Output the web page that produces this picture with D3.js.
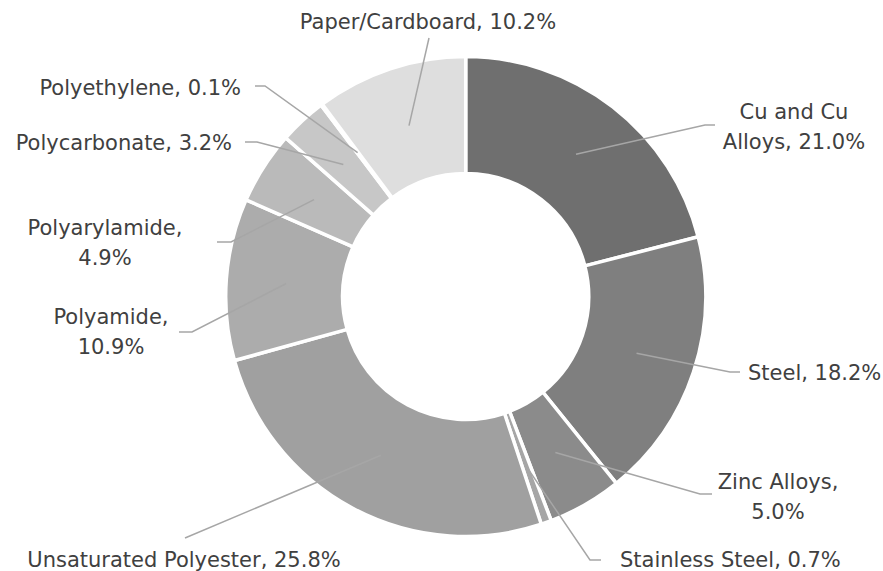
<!DOCTYPE html>
<html>
<head>
<meta charset="utf-8">
<script src="https://cdn.jsdelivr.net/npm/d3@7"></script>
<style>
  body { margin: 0; background: #fff; }
  text { font-family: "DejaVu Sans", sans-serif; font-size: 21px; fill: #404040; }
</style>
</head>
<body>
<svg id="chart" width="883" height="571"></svg>
<script>
// data, clockwise from 12 o'clock
const materials = ["Cu and Cu Alloys", "Steel", "Zinc Alloys", "Stainless Steel", "Unsaturated Polyester",
                   "Polyamide", "Polyarylamide", "Polycarbonate", "Polyethylene", "Paper/Cardboard"];
const shares = [21.0, 18.2, 5.0, 0.7, 25.8, 10.9, 4.9, 3.2, 0.1, 10.2];
const greys = ["#6f6f6f", "#7f7f7f", "#8b8b8b", "#a6a6a6", "#a0a0a0",
               "#acacac", "#bababa", "#c7c7c7", "#d2d2d2", "#dedede"];

// label placement (Excel style: leader elbow, leader end, text anchor)
const labelLayout = {
  "Cu and Cu Alloys":      {x: 794, y: 127, anchor: "middle", words: 3, leg: [[705, 125], [715, 125]]},
  "Steel":                 {x: 748, y: 373, anchor: "start",  leg: [[730, 372], [740, 372]]},
  "Zinc Alloys":           {x: 778, y: 497, anchor: "middle", words: 2, leg: [[700, 494], [712, 494]]},
  "Stainless Steel":       {x: 620, y: 560, anchor: "start",  leg: [[590, 560], [601, 560]]},
  "Unsaturated Polyester": {x: 184, y: 560, anchor: "middle", leg: [[185, 538]]},
  "Polyamide":             {x: 111, y: 332, anchor: "middle", words: 1, leg: [[192, 332], [179, 332]]},
  "Polyarylamide":         {x: 105, y: 243, anchor: "middle", words: 1, leg: [[231, 242], [217, 242]]},
  "Polycarbonate":         {x: 232, y: 143, anchor: "end",    leg: [[257, 142], [245, 142]]},
  "Polyethylene":          {x: 241, y: 88,  anchor: "end",    leg: [[265, 86], [255, 86]]},
  "Paper/Cardboard":       {x: 428, y: 22,  anchor: "middle", leg: [[429, 38]]}
};

const cx = 465.7, cy = 296.5, rInner = 123, rOuter = 240, lineH = 30.5;

const svg = d3.select("#chart");
const g = svg.append("g").attr("transform", `translate(${cx},${cy})`);

const rows = materials.map((m, i) => ({name: m, value: shares[i], color: greys[i]}));
const arcs = d3.pie().sort(null).value(d => d.value)(rows);

const arc = d3.arc().innerRadius(rInner).outerRadius(rOuter);
const mid = d3.arc().innerRadius(180).outerRadius(180);

g.selectAll("path.slice")
  .data(arcs)
  .join("path")
    .attr("class", "slice")
    .attr("d", arc)
    .attr("fill", d => d.data.color)
    .attr("stroke", "#fff")
    .attr("stroke-width", 3.5)
    .attr("stroke-linejoin", "miter");

// leader lines
svg.append("g")
  .selectAll("path")
  .data(arcs)
  .join("path")
    .attr("fill", "none")
    .attr("stroke", "#a6a6a6")
    .attr("stroke-width", 1.5)
    .attr("d", d => {
      const [mx, my] = mid.centroid(d);
      const pts = [[cx + mx, cy + my]].concat(labelLayout[d.data.name].leg);
      return d3.line()(pts);
    });

// labels
svg.append("g")
  .selectAll("text")
  .data(arcs)
  .join("text")
    .attr("text-anchor", d => labelLayout[d.data.name].anchor)
    .attr("x", d => labelLayout[d.data.name].x)
    .attr("y", d => labelLayout[d.data.name].y)
    .each(function(d) {
      const L = labelLayout[d.data.name];
      const words = `${d.data.name}, ${d.data.value.toFixed(1)}%`.split(" ");
      const lines = L.words ? [words.slice(0, L.words).join(" "), words.slice(L.words).join(" ")]
                            : [words.join(" ")];
      const t = d3.select(this);
      lines.forEach((s, i) => {
        t.append("tspan")
          .attr("x", L.x)
          .attr("dy", i === 0 ? ((1 - lines.length) / 2 * lineH + 7) : lineH)
          .text(s);
      });
    });
</script>
</body>
</html>
